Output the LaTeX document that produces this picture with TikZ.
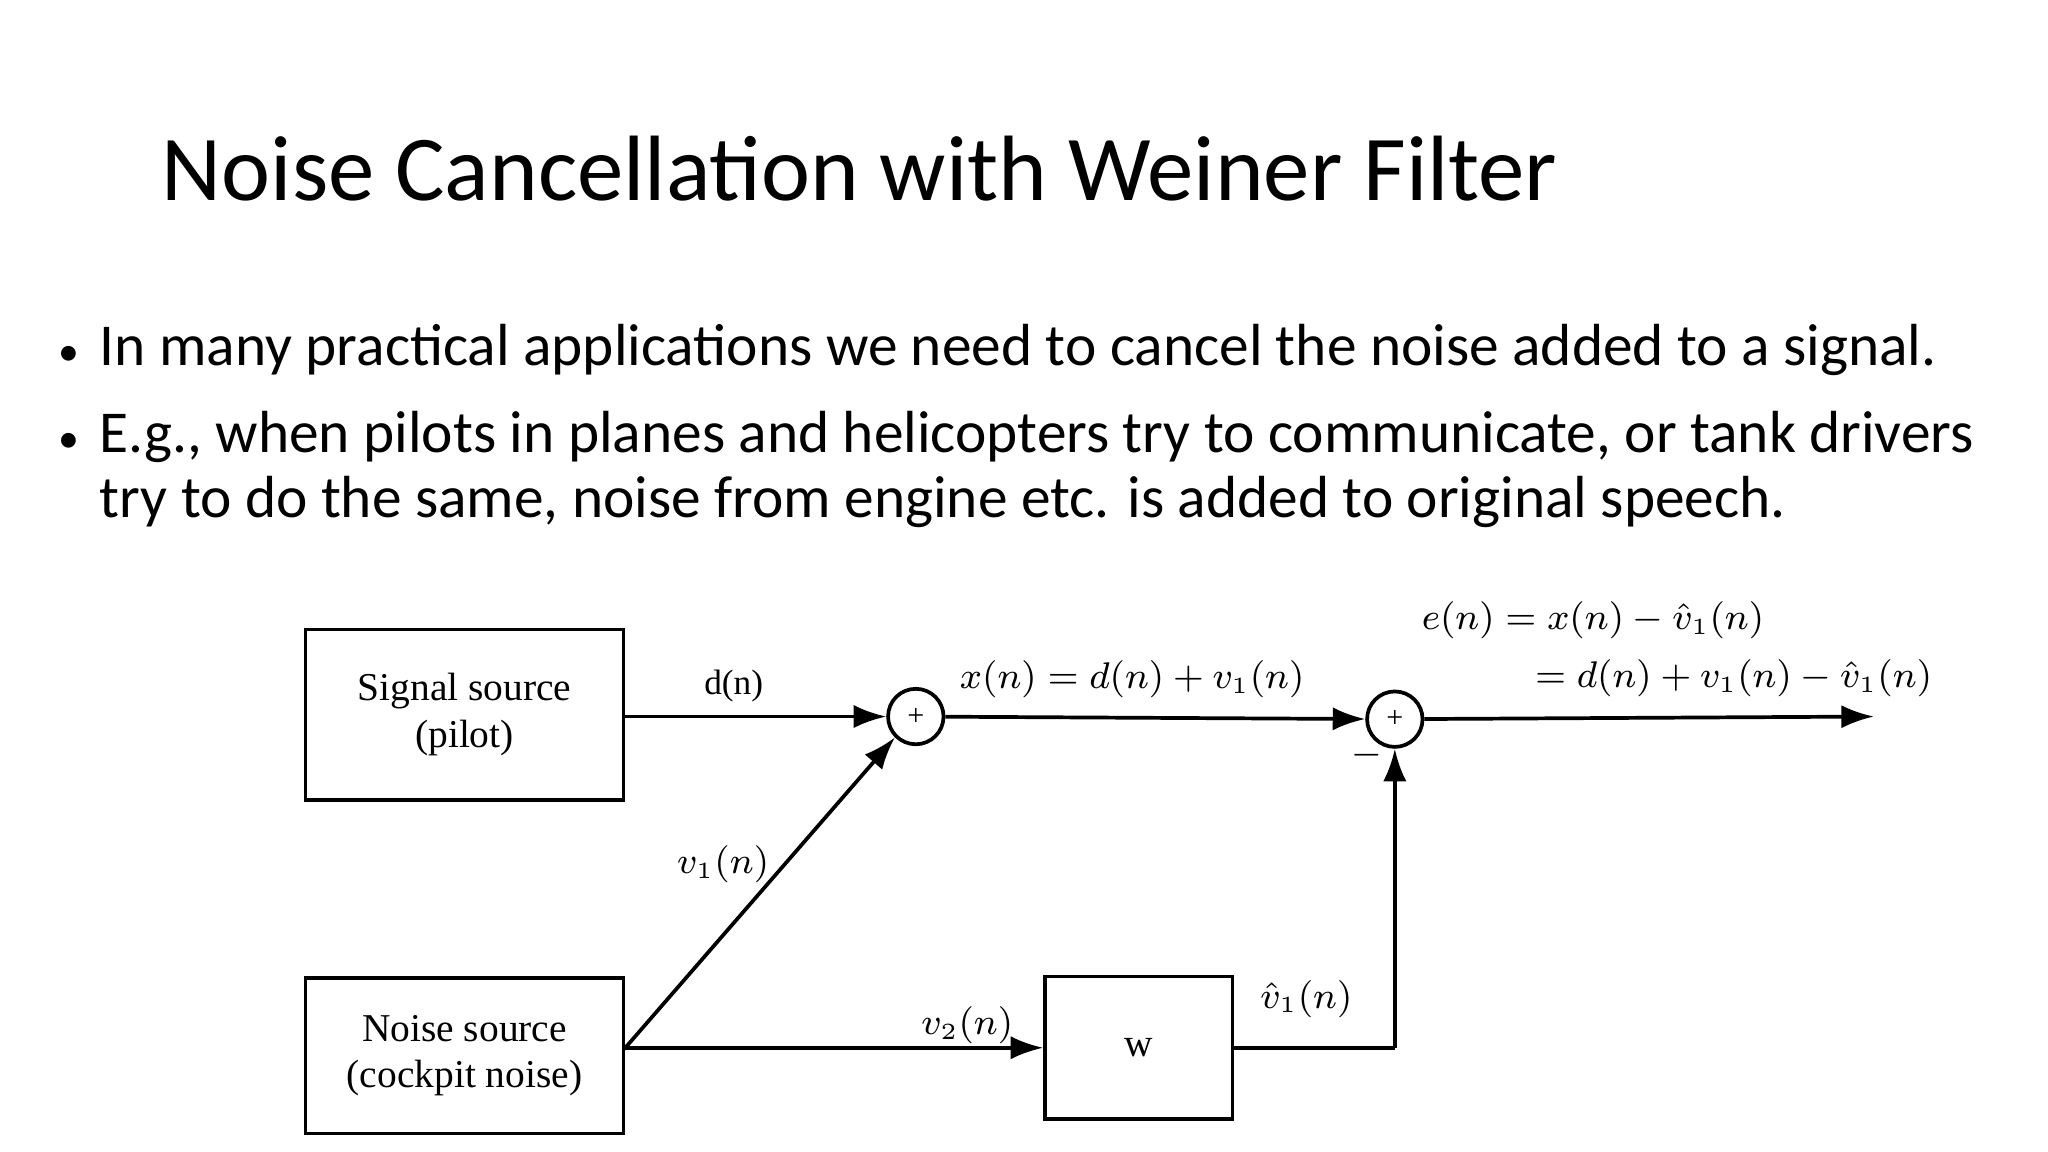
\documentclass[tikz,border=0pt]{standalone}
\usepackage{fontspec}
\setmainfont{Carlito}
\newfontfamily\dfont{Liberation Serif}
\usetikzlibrary{arrows.meta}
\begin{document}
\begin{tikzpicture}[x=0.01cm,y=-0.01cm,
  blk/.style={draw,line width=0.8pt,inner sep=0pt,font=\dfont\fontsize{8.5}{10}\selectfont,align=center},
  sum/.style={draw,circle,line width=0.8pt,minimum size=0.42cm,inner sep=0pt,font=\dfont\fontsize{6.5}{8}\selectfont},
  lbl/.style={font=\dfont\fontsize{7.6}{9}\selectfont},
  bul/.style={anchor=base west,font=\fontsize{12.8}{15}\selectfont},
  arr/.style={line width=0.8pt,-{Latex[length=7pt,width=5pt]}},
  ln/.style={line width=0.8pt}]
\useasboundingbox (0,0) rectangle (1552,873);
\node[anchor=base west,font=\fontsize{20}{24}\selectfont,inner sep=0pt] (title) at (122,152) {Noise Cancellation with Weiner Filter};
\node[bul,inner sep=0pt] (d1) at (44,277) {\fontsize{9}{10}\selectfont•};
\node[bul,inner sep=0pt] (b1) at (75,277) {In many practical applications we need to cancel the noise added to a signal.};
\node[bul,inner sep=0pt] (d2) at (44,343) {\fontsize{9}{10}\selectfont•};
\node[bul,inner sep=0pt] (b2) at (75,343) {E.g., when pilots in planes and helicopters try to communicate, or tank drivers};
\node[bul,inner sep=0pt] (b3) at (75,392) {try to do the same, noise from engine etc. is added to original speech.};

\node[blk,minimum width=2.41cm,minimum height=1.29cm] (sig) at (352,541.5) {Signal source\\(pilot)};
\node[blk,minimum width=2.41cm,minimum height=1.18cm] (noi) at (352,800) {Noise source\\(cockpit noise)};
\node[blk,minimum width=1.42cm,minimum height=1.08cm] (w) at (863,794) {w};
\node[sum] (s1) at (694,543) {+};
\node[sum] (s2) at (1057,545) {+};
\coordinate (out) at (1420,543);
\coordinate (nd) at (473,795);
\coordinate (corner) at (1057,794);

\draw[arr] (sig.east |- s1) -- (s1);
\draw[arr] (nd) -- (s1.225);
\draw[arr] (noi.east |- w) -- (w.west);
\draw[arr] (s1) -- (s2);
\draw[arr] (s2) -- (out);
\draw[ln] (w.east) -- (corner);
\draw[arr] (corner) -- (s2);

\node[lbl] (ld) at (556,520) {d(n)};
\node[lbl] (lx) at (858,515) {$x(n)=d(n)+v_1(n)$};
\node[lbl,anchor=west] (le1) at (1065,470) {$e(n)=x(n)-\hat v_1(n)$};
\node[lbl,anchor=west] (le2) at (1119,514) {$\phantom{e(n)}\llap{$=$}\;d(n)+v_1(n)-\hat v_1(n)$};
\node[lbl] (lv1) at (548,655) {$v_1(n)$};
\node[lbl] (lv2) at (733,777) {$v_2(n)$};
\node[lbl] (lvh) at (990,757) {$\hat v_1(n)$};
\node[lbl] (lm) at (1036,572) {$-$};
\end{tikzpicture}
\end{document}
